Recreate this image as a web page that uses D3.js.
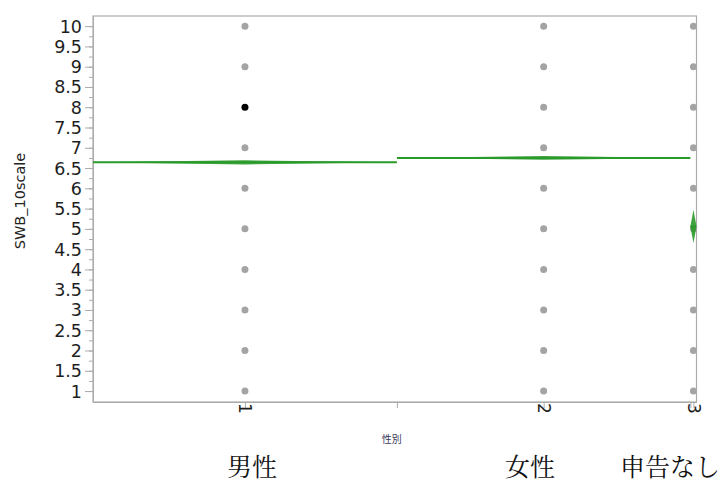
<!DOCTYPE html>
<html>
<head>
<meta charset="utf-8">
<script src="https://cdn.jsdelivr.net/npm/d3@7/dist/d3.min.js"></script>
<style>
  body { margin: 0; background: #fff; }
  svg { display: block; }
</style>
</head>
<body>
<svg id="chart" width="726" height="497"></svg>
<script>
// Group codes on the x axis and their readable names
const categories = ["1", "2", "3"];
const groupLabels = ["男性", "女性", "申告なし"];
// Group sizes (x-axis widths are proportional to them)
const groupCounts = [846, 817, 17];
// Group means and half-widths of the 95% confidence interval
const groupMeans = [6.64, 6.75, 5.06];
const groupCIHalf = [0.05, 0.045, 0.41];
// Response levels observed in every group
const responseLevels = [1, 2, 3, 4, 5, 6, 7, 8, 9, 10];
// Highlighted observation
const highlighted = [{ category: "1", value: 8 }];
// Labelled y ticks
const yTickValues = [1, 1.5, 2, 2.5, 3, 3.5, 4, 4.5, 5, 5.5, 6, 6.5, 7, 7.5, 8, 8.5, 9, 9.5, 10];
const yLabel = "SWB_10scale";
const xLabel = "性別";

const svg = d3.select("#chart");
const plot = { left: 93, right: 696.5, top: 16, bottom: 402 };

const total = d3.sum(groupCounts);
const ends = Array.from(d3.cumsum(groupCounts));
const starts = ends.map((e, i) => e - groupCounts[i]);
const centers = starts.map((s, i) => s + groupCounts[i] / 2);

const x = d3.scaleLinear().domain([0, total]).range([plot.left, plot.right]);
const y = d3.scaleLinear().domain([0.73, 10.25]).range([plot.bottom, plot.top]);

const axisColor = "#ababab";
const green = "#2a9a2a";
const tickFont = "'DejaVu Sans', Verdana, sans-serif";

// clip region for marks
svg.append("defs").append("clipPath").attr("id", "plotClip")
  .append("rect")
  .attr("x", plot.left).attr("y", plot.top)
  .attr("width", plot.right - plot.left).attr("height", plot.bottom - plot.top);

// frame
svg.append("rect")
  .attr("x", plot.left).attr("y", plot.top)
  .attr("width", plot.right - plot.left).attr("height", plot.bottom - plot.top)
  .attr("fill", "none").attr("stroke", axisColor).attr("stroke-width", 1.2);

// y axis: minor ticks every quarter, labels every half
const yMinor = d3.range(1, 10.01, 0.25);
const yMinorAxis = d3.axisLeft(y).tickValues(yMinor).tickSize(4).tickSizeOuter(0).tickFormat("");
const gyMinor = svg.append("g").attr("transform", `translate(${plot.left},0)`).call(yMinorAxis);
gyMinor.select(".domain").remove();
gyMinor.selectAll("line").attr("stroke", axisColor);

const yAxis = d3.axisLeft(y).tickValues(yTickValues).tickSize(8).tickSizeOuter(0).tickPadding(3)
  .tickFormat(d => String(d));
const gy = svg.append("g").attr("transform", `translate(${plot.left},0)`).call(yAxis);
gy.select(".domain").attr("stroke", axisColor);
gy.selectAll("line").attr("stroke", axisColor);
gy.selectAll("text")
  .attr("font-family", tickFont)
  .attr("font-size", 17.5).attr("fill", "#1e1e1e")
  .attr("dy", "0.34em");

// x axis: ticks at group centres (labelled) and group boundaries
const boundaries = ends.slice(0, -1);
const xTickVals = centers.concat(boundaries);
const xAxis = d3.axisBottom(x).tickValues(xTickVals).tickSize(6).tickSizeOuter(0)
  .tickFormat(d => { const i = centers.indexOf(d); return i >= 0 ? categories[i] : ""; });
const gx = svg.append("g").attr("transform", `translate(0,${plot.bottom})`).call(xAxis);
gx.select(".domain").attr("stroke", axisColor);
gx.selectAll("line").attr("stroke", axisColor);
gx.selectAll("text")
  .attr("font-family", tickFont)
  .attr("font-size", 17).attr("fill", "#1e1e1e")
  .attr("text-anchor", "start")
  .attr("transform", "rotate(90)")
  .attr("x", 1).attr("y", 0).attr("dy", "0.35em");

// axis titles
svg.append("text")
  .attr("transform", `translate(25,${(plot.top + plot.bottom) / 2 - 8}) rotate(-90)`)
  .attr("text-anchor", "middle")
  .attr("font-family", tickFont)
  .attr("font-size", 14.5).attr("fill", "#222")
  .text(yLabel);

svg.append("text")
  .attr("x", (plot.left + plot.right) / 2 - 3).attr("y", 443)
  .attr("text-anchor", "middle")
  .attr("font-family", "'Noto Sans CJK JP', sans-serif")
  .attr("font-size", 10).attr("fill", "#3a3a5a")
  .text(xLabel);

// marks
const marks = svg.append("g").attr("clip-path", "url(#plotClip)");

// observations
categories.forEach((c, i) => {
  marks.selectAll(null)
    .data(responseLevels)
    .enter().append("circle")
    .attr("cx", x(centers[i]))
    .attr("cy", d => y(d))
    .attr("r", 3.5)
    .attr("fill", d => highlighted.some(h => h.category === c && h.value === d) ? "#000" : "#a4a4a4");
});

// means diamonds
categories.forEach((c, i) => {
  const x0 = x(starts[i]), x1 = x(ends[i]), xc = x(centers[i]);
  const m = groupMeans[i], h = groupCIHalf[i];
  const pts = [[x0, y(m)], [xc, y(m + h)], [x1, y(m)], [xc, y(m - h)]];
  marks.append("path")
    .attr("d", d3.line()(pts) + "Z")
    .attr("fill", green).attr("fill-opacity", 0.9).attr("stroke", "none");
  marks.append("line")
    .attr("x1", x0).attr("x2", x1)
    .attr("y1", y(m)).attr("y2", y(m))
    .attr("stroke", green).attr("stroke-width", 2);
});

// group names below the chart
const nameX = [252, 530, 670];
svg.selectAll(".groupName")
  .data(groupLabels)
  .enter().append("text")
  .attr("class", "groupName")
  .attr("x", (d, i) => nameX[i]).attr("y", 476)
  .attr("text-anchor", "middle")
  .attr("font-family", "'Noto Serif CJK JP', 'Noto Sans CJK JP', serif")
  .attr("font-size", 25).attr("fill", "#111")
  .text(d => d);
</script>
</body>
</html>
